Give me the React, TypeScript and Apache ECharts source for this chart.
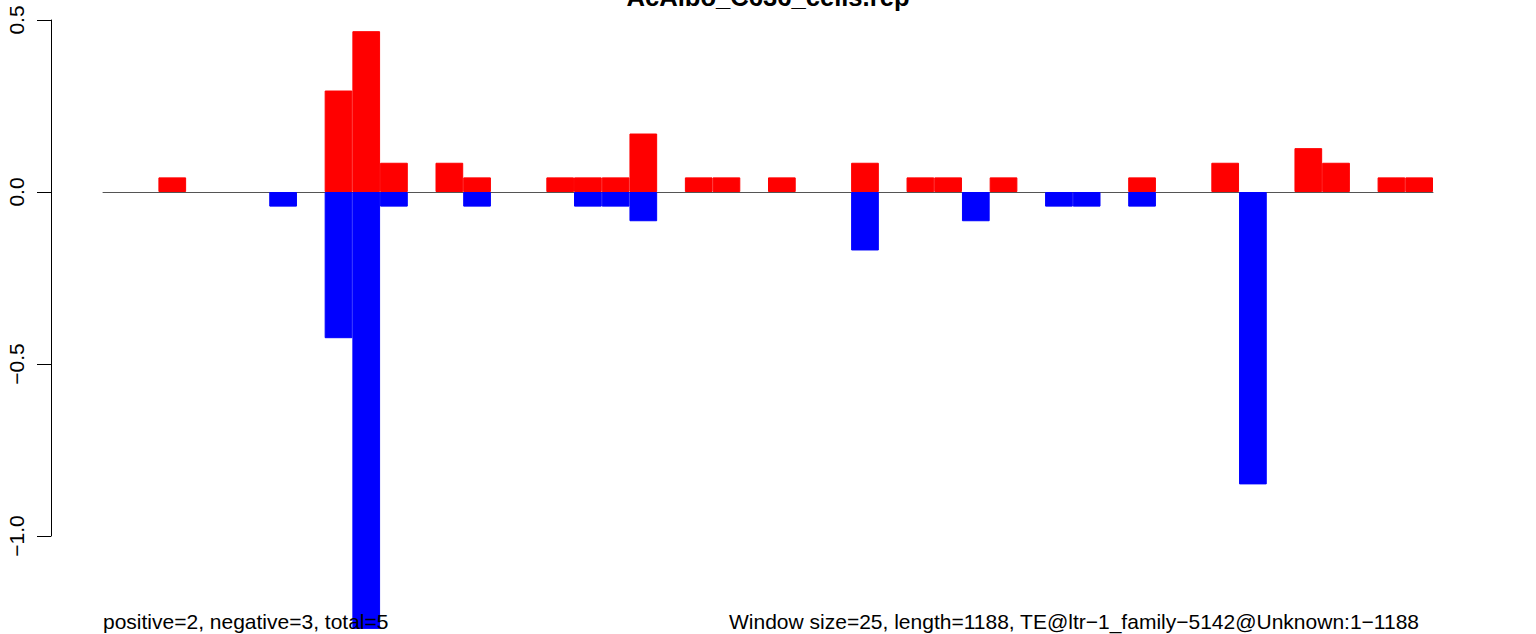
import React, { useEffect, useRef } from "react";
import * as echarts from "echarts";

const titleText = "AcAlbo_C636_cells.rep";
const leftNote = "positive=2, negative=3, total=5";
const rightNote = "Window size=25, length=1188, TE@ltr\u22121_family\u22125142@Unknown:1\u22121188";

const windowStarts = [
  1, 26, 51, 76, 101, 126, 151, 176, 201, 226, 251, 276, 301, 326, 351, 376,
  401, 426, 451, 476, 501, 526, 551, 576, 601, 626, 651, 676, 701, 726, 751, 776,
  801, 826, 851, 876, 901, 926, 951, 976, 1001, 1026, 1051, 1076, 1101, 1126, 1151, 1176,
];

const positiveValues = [
  0, 0, 0.0425, 0, 0, 0, 0, 0, 0.295, 0.4675,
  0.085, 0, 0.085, 0.0425, 0, 0, 0.0425, 0.0425, 0.0425, 0.17,
  0, 0.0425, 0.0425, 0, 0.0425, 0, 0, 0.085, 0, 0.0425,
  0.0425, 0, 0.0425, 0, 0, 0, 0, 0.0425, 0, 0,
  0.085, 0, 0, 0.1275, 0.085, 0, 0.0425, 0.0425,
];

const negativeValues = [
  0, 0, 0, 0, 0, 0, -0.0425, 0, -0.425, -1.27,
  -0.0425, 0, 0, -0.0425, 0, 0, 0, -0.0425, -0.0425, -0.085,
  0, 0, 0, 0, 0, 0, 0, -0.17, 0, 0,
  0, -0.085, 0, 0, -0.0425, -0.0425, 0, -0.0425, 0, 0,
  0, -0.85, 0, 0, 0, 0, 0, 0,
];

const yTicks = { min: -1.0, max: 0.5, interval: 0.5 };

const FONT = "'Liberation Sans', Arial, Helvetica, sans-serif";

const asBars = (vals: number[]) => vals.map((v) => (v === 0 ? "-" : v));

export default function App() {
  const ref = useRef<HTMLDivElement>(null);
  useEffect(() => {
    if (!ref.current) return;
    const chart = echarts.init(ref.current, null, { renderer: "svg" });
    chart.setOption({
      animation: false,
      backgroundColor: "#ffffff",
      grid: { left: 103, right: 103, top: 20, bottom: 98, containLabel: false },
      xAxis: {
        type: "category",
        data: windowStarts.map(String),
        boundaryGap: true,
        axisLine: { show: true, onZero: true, lineStyle: { color: "#555555", width: 1 } },
        axisTick: { show: false },
        axisLabel: { show: false },
        splitLine: { show: false },
      },
      yAxis: {
        type: "value",
        min: yTicks.min,
        max: yTicks.max,
        interval: yTicks.interval,
        offset: 52,
        axisLine: { show: true, lineStyle: { color: "#000000", width: 1 } },
        axisTick: { show: true, length: 14, lineStyle: { color: "#000000", width: 1 } },
        splitLine: { show: false },
        axisLabel: {
          rotate: 90,
          margin: 24,
          fontSize: 21,
          color: "#000000",
          fontFamily: FONT,
          formatter: (v: number) => v.toFixed(1).replace("-", "\u2212"),
        },
      },
      series: [
        {
          name: "positive",
          type: "bar",
          data: asBars(positiveValues),
          barGap: "-100%",
          barCategoryGap: "0%",
          itemStyle: { color: "#ff0000", borderColor: "#ff0000", borderWidth: 1 },
          clip: false,
        },
        {
          name: "negative",
          type: "bar",
          data: asBars(negativeValues),
          barGap: "-100%",
          barCategoryGap: "0%",
          itemStyle: { color: "#0000ff", borderColor: "#0000ff", borderWidth: 1 },
          clip: false,
        },
      ],
      graphic: [
        {
          type: "text",
          x: 768,
          y: -3,
          z: 10,
          style: {
            text: titleText,
            align: "center",
            verticalAlign: "middle",
            font: `bold 25.6px ${FONT}`,
            fill: "#000000",
          },
        },
        {
          type: "text",
          x: 103,
          y: 621.7,
          z: 10,
          style: {
            text: leftNote,
            align: "left",
            verticalAlign: "middle",
            font: `21px ${FONT}`,
            fill: "#000000",
          },
        },
        {
          type: "text",
          x: 1419,
          y: 621.7,
          z: 10,
          style: {
            text: rightNote,
            align: "right",
            verticalAlign: "middle",
            font: `21px ${FONT}`,
            fill: "#000000",
          },
        },
      ],
    });
    return () => chart.dispose();
  }, []);
  return (
    <div
      ref={ref}
      style={{ position: "fixed", left: 0, top: 0, width: 1536, height: 634, background: "#fff" }}
    />
  );
}
